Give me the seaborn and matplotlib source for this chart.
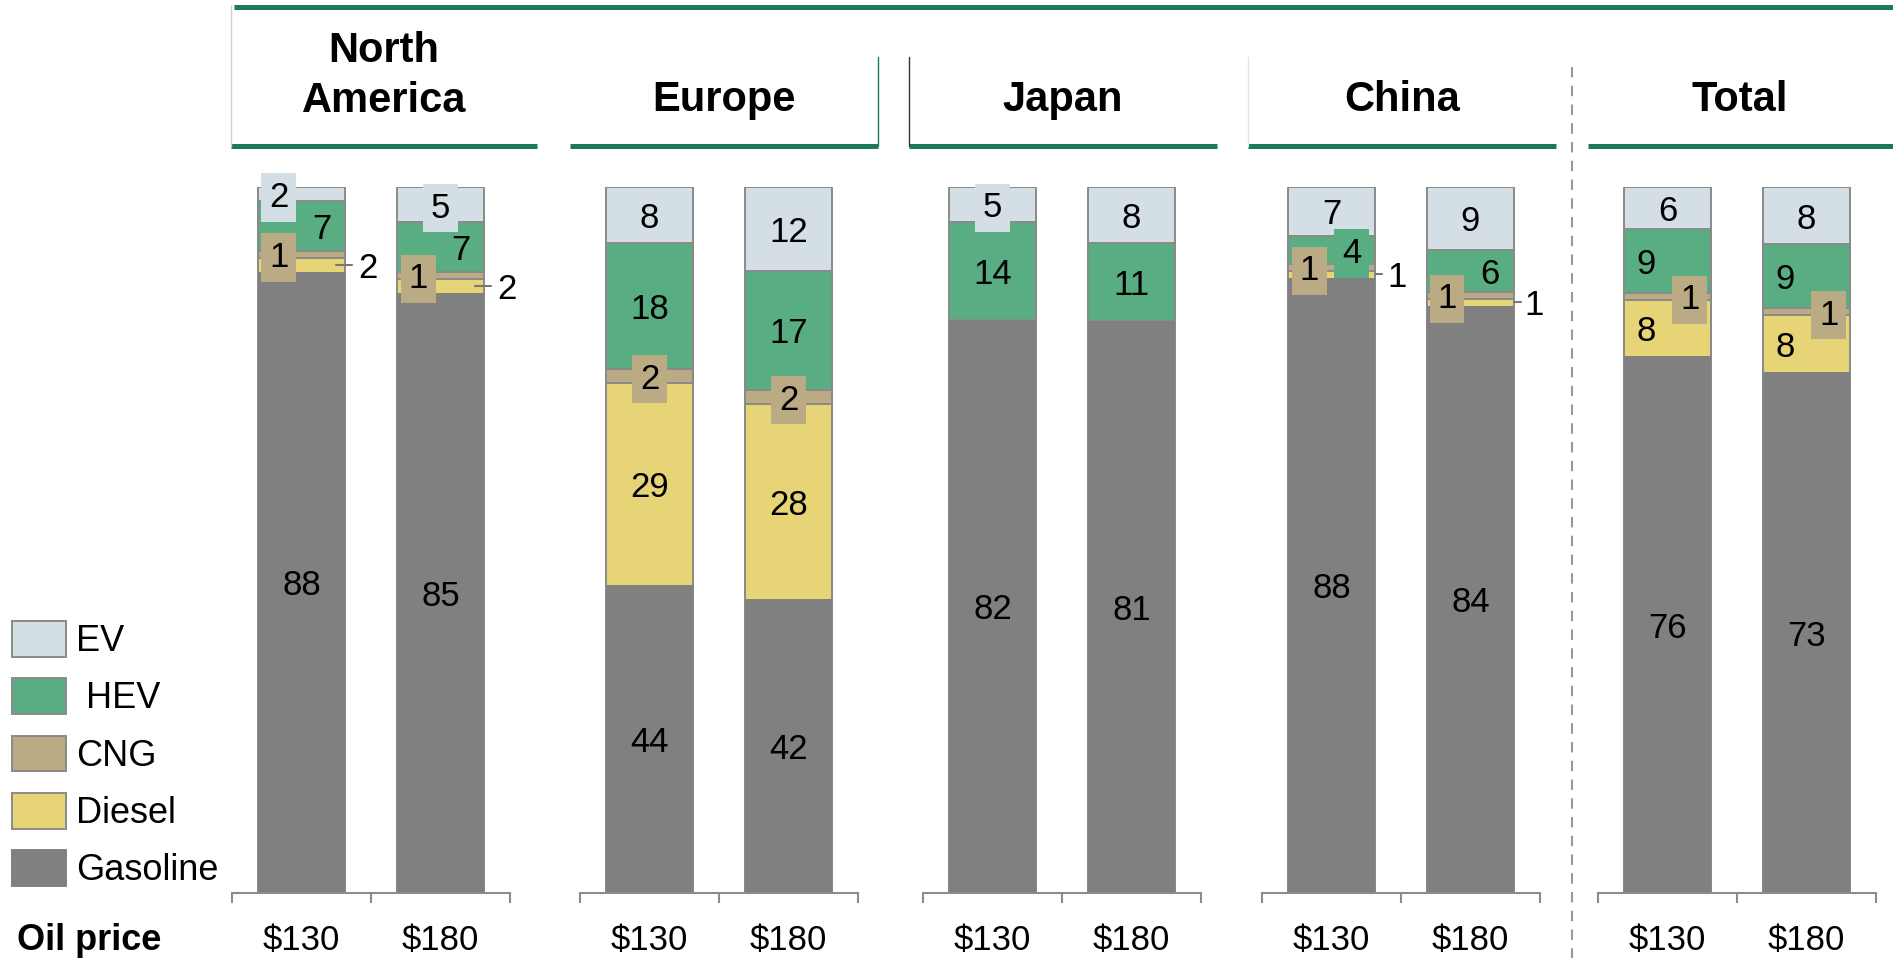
import numpy as np
import pandas as pd
import matplotlib
matplotlib.use("Agg")
import matplotlib.pyplot as plt
from matplotlib.patches import Patch
import seaborn as sns

# ---- data -------------------------------------------------------------
regions = ["North\nAmerica", "Europe", "Japan", "China", "Total"]
prices = ["$130", "$180"]
fuels = ["Gasoline", "Diesel", "CNG", "HEV", "EV"]
legend_labels = ["EV", " HEV", "CNG", "Diesel", "Gasoline"]

# one entry per bar: region by region, $130 then $180
gasoline = [88, 85, 44, 42, 82, 81, 88, 84, 76, 73]
diesel = [2, 2, 29, 28, 0, 0, 1, 1, 8, 8]
cng = [1, 1, 2, 2, 0, 0, 1, 1, 1, 1]
hev = [7, 7, 18, 17, 14, 11, 4, 6, 9, 9]
ev = [2, 5, 8, 12, 5, 8, 7, 9, 6, 8]

# ---- styling / placement ---------------------------------------------
colors = {"Gasoline": "#808080", "Diesel": "#E6D476", "CNG": "#BAAB85",
          "HEV": "#59AD82", "EV": "#D3DFE5"}
edge = "#8A8A8A"
green = "#1C7A58"

W, H = 1893, 958
ax_left = [232, 580, 923, 1262, 1598]
ax_width = 278
ax_top, ax_bottom = 187, 893
bar_width = 0.633

# horizontal nudges for crowded labels (in bar slots, 0 = centred)
label_dx = {
    (0, 0): {"EV": -0.165, "HEV": 0.145, "CNG": -0.165},
    (0, 1): {"HEV": 0.145, "CNG": -0.16},
    (3, 0): {"CNG": -0.16, "HEV": 0.145},
    (3, 1): {"CNG": -0.17, "HEV": 0.14},
    (4, 0): {"Diesel": -0.155, "CNG": 0.16, "HEV": -0.155},
    (4, 1): {"Diesel": -0.155, "CNG": 0.16, "HEV": -0.155},
}
# labels placed beside the bar with a short leader: (fuel, line start, line end, text x)
outside = {
    (0, 0): ("Diesel", 0.25, 0.36, 0.475),
    (0, 1): ("Diesel", 0.25, 0.36, 0.475),
    (3, 0): ("Diesel", 0.31, 0.36, 0.47),
    (3, 1): ("Diesel", 0.31, 0.36, 0.46),
}

sns.set_theme(style="white")
plt.rcParams["font.family"] = ["Liberation Sans", "DejaVu Sans"]
plt.rcParams["text.color"] = "black"

values = pd.DataFrame({"Gasoline": gasoline, "Diesel": diesel, "CNG": cng,
                       "HEV": hev, "EV": ev})
values["region"] = np.repeat(np.arange(len(regions)), len(prices))
values["price"] = prices * len(regions)

shares = values[fuels].div(values[fuels].sum(axis=1), axis=0) * 100
tops = shares.cumsum(axis=1)

fig = plt.figure(figsize=(W / 100, H / 100), dpi=100)

for r, name in enumerate(regions):
    ax = fig.add_axes([ax_left[r] / W, 1 - ax_bottom / H,
                       ax_width / W, (ax_bottom - ax_top) / H])
    rows = values["region"] == r
    # stacked bars: draw cumulative heights from the top segment down
    for fuel in fuels[::-1]:
        df = pd.DataFrame({"price": values.loc[rows, "price"],
                           "top": tops.loc[rows, fuel]})
        is_gas = fuel == "Gasoline"
        sns.barplot(data=df, x="price", y="top", order=prices,
                    color=colors[fuel], saturation=1, width=bar_width,
                    edgecolor=colors[fuel] if is_gas else edge,
                    linewidth=0 if is_gas else 1.4, errorbar=None, ax=ax)
    # value labels
    for p, idx in enumerate(values.index[rows]):
        side = outside.get((r, p))
        for fuel in fuels:
            v = values.loc[idx, fuel]
            if v == 0:
                continue
            yc = tops.loc[idx, fuel] - shares.loc[idx, fuel] / 2
            if side and side[0] == fuel:
                ax.plot([p + side[1], p + side[2]], [yc, yc], color="#777777",
                        lw=1.5, clip_on=False, zorder=6)
                ax.text(p + side[3], yc, str(v), ha="center",
                        va="center_baseline", fontsize=25, color="black",
                        clip_on=False, zorder=7)
                continue
            dx = label_dx.get((r, p), {}).get(fuel, 0.0)
            box = None
            if v <= 5:
                box = dict(boxstyle="square,pad=0.22", fc=colors[fuel], ec="none")
            ax.text(p + dx, yc, str(v), ha="center", va="center_baseline",
                    fontsize=25, color="black", bbox=box, clip_on=False,
                    zorder=7)

    ax.set_xlim(-0.5, 1.5)
    ax.set_ylim(0, 100)
    ax.set_xlabel("")
    ax.set_ylabel("")
    ax.set_yticks([])
    for s in ("left", "right", "top"):
        ax.spines[s].set_visible(False)
    ax.spines["bottom"].set_color("#8C8C8C")
    ax.spines["bottom"].set_linewidth(1.5)
    ax.set_xticks([0, 1])
    ax.set_xticklabels(prices, fontsize=25, color="black")
    ax.set_xticks([-0.5, 0.5, 1.5], minor=True)
    ax.tick_params(axis="x", which="major", length=0, pad=22)
    ax.tick_params(axis="x", which="minor", length=7, width=1.5,
                   color="#8C8C8C", direction="out", bottom=True)
    ax.patch.set_alpha(0)

# ---- header panels, separator and captions (pixel coordinates) -------
ov = fig.add_axes([0, 0, 1, 1], zorder=-1)
ov.set_xlim(0, W)
ov.set_ylim(H, 0)
ov.axis("off")

ov.plot([234, W], [6.5, 6.5], color=green, lw=3.6, solid_capstyle="butt")
panels = [(231, 537), (570, 878), (909, 1217), (1248, 1556), (1588, W)]
for x0, x1 in panels:
    ov.plot([x0, x1], [145.5, 145.5], color=green, lw=3.6,
            solid_capstyle="butt")
ov.plot([231, 231], [5, 146], color="#D0D0D0", lw=1)
ov.plot([878, 878], [57, 146], color=green, lw=1)
ov.plot([909, 909], [57, 146], color="#333333", lw=1)
ov.plot([1248, 1248], [57, 146], color="#D8ECE4", lw=1)
ov.plot([1572, 1572], [67, H], color="#999999", lw=1.5, ls=(0, (5, 4)))

head_x = [384, 724, 1063, 1402, 1740]
for r, name in enumerate(regions):
    ov.text(head_x[r], 76 if "\n" in name else 100, name, ha="center",
            va="center", fontsize=30, fontweight="bold", linespacing=1.35,
            color="black")

ov.text(17, 940, "Oil price", ha="left", va="center", fontsize=26,
        fontweight="bold", color="black")

handles = [Patch(facecolor=colors[f], edgecolor=edge if f != "Gasoline" else colors[f],
                 linewidth=1.4) for f in fuels[::-1]]
fig.legend(handles, legend_labels, loc="upper left",
           bbox_to_anchor=(12 / W, 1 - 621 / H), frameon=False, fontsize=26,
           borderpad=0, borderaxespad=0, handlelength=1.5, handleheight=1.15,
           handletextpad=0.28, labelspacing=0.53, labelcolor="black")

fig.savefig("out.png", dpi=100)
